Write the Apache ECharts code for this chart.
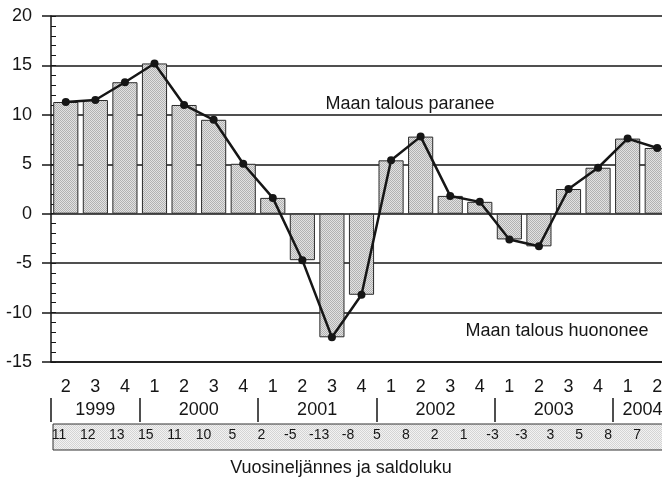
<!DOCTYPE html>
<html>
<head>
<meta charset="utf-8">
<script src="https://cdn.jsdelivr.net/npm/echarts@6/dist/echarts.min.js"></script>
<style>
  html, body { margin: 0; padding: 0; background: #fff; }
  #main { width: 662px; height: 485px; }
</style>
</head>
<body>
<div id="main"></div>
<script>
var quarters = ['2', '3', '4', '1', '2', '3', '4', '1', '2', '3', '4', '1', '2', '3', '4', '1', '2', '3', '4', '1', '2']
var years = ['1999', '1999', '1999', '2000', '2000', '2000', '2000', '2001', '2001', '2001', '2001',
  '2002', '2002', '2002', '2002', '2003', '2003', '2003', '2003', '2004', '2004']
var saldo = [11.3, 11.5, 13.3, 15.2, 11.0, 9.5, 5.05, 1.6, -4.7, -12.5, -8.2,
  5.4, 7.8, 1.8, 1.2, -2.6, -3.3, 2.5, 4.65, 7.6, 6.65]
var saldoLabels = ['11', '12', '13', '15', '11', '10', '5', '2', '-5', '-13', '-8',
  '5', '8', '2', '1', '-3', '-3', '3', '5', '8', '7']

var FONT = '"Liberation Sans", Arial, sans-serif'
var INK = '#161616'

// category ids (quarters repeat, so make them unique)
var cats = quarters.map(function (q, i) { return years[i] + '/' + q })

// year spans: separator before first quarter, label at middle of span
var yearNames = []
var yearStarts = []
var yearCenters = []
years.forEach(function (y, i) {
  if (yearNames.indexOf(y) < 0) {
    yearNames.push(y)
    yearStarts.push(i - 0.5)
  }
})
yearNames.forEach(function (y) {
  yearCenters.push((years.indexOf(y) + years.lastIndexOf(y)) / 2)
})

// fine checker texture like the printed raster
function stipple (light, dark) {
  var c = document.createElement('canvas')
  c.width = 2
  c.height = 2
  var g = c.getContext('2d')
  g.fillStyle = light
  g.fillRect(0, 0, 2, 2)
  g.fillStyle = dark
  g.fillRect(0, 0, 1, 1)
  g.fillRect(1, 1, 1, 1)
  return { image: c, repeat: 'repeat' }
}

var myChart = echarts.init(document.getElementById('main'))
var option = {
  backgroundColor: '#ffffff',
  animation: false,
  grid: [
    { left: 51, right: -10, top: 16, bottom: 123, outerBoundsMode: 'none' },
    { left: 44.5, right: 10.5, top: 380, bottom: 61, outerBoundsMode: 'none' }
  ],
  xAxis: [{
    type: 'category',
    gridIndex: 0,
    data: cats,
    boundaryGap: true,
    axisLine: { show: true, onZero: false, lineStyle: { color: INK, width: 1.5 } },
    axisTick: { show: false },
    axisLabel: {
      margin: 16,
      fontFamily: FONT,
      fontSize: 18,
      color: INK,
      interval: 0,
      formatter: function (v) { return v.split('/')[1] }
    }
  }, {
    type: 'value',
    gridIndex: 0,
    position: 'bottom',
    offset: 36,
    min: -0.5,
    max: 20.5,
    axisLine: { show: false, onZero: false },
    splitLine: { show: false },
    axisTick: {
      show: true,
      customValues: yearStarts,
      length: 24,
      lineStyle: { color: INK, width: 1.5 }
    },
    axisLabel: {
      customValues: yearCenters,
      margin: 3,
      fontFamily: FONT,
      fontSize: 18,
      color: INK,
      formatter: function (v) { return yearNames[yearCenters.indexOf(v)] }
    }
  }, {
    type: 'category',
    gridIndex: 1,
    data: cats,
    axisLine: { show: false, onZero: false },
    axisTick: { show: false },
    axisLabel: {
      margin: 4,
      interval: 0,
      fontFamily: FONT,
      fontSize: 14,
      color: INK,
      formatter: function (v, i) { return saldoLabels[i] }
    }
  }],
  yAxis: [{
    type: 'value',
    gridIndex: 0,
    min: -15,
    max: 20,
    interval: 5,
    axisLine: { show: true, onZero: false, lineStyle: { color: INK, width: 1.5 } },
    axisTick: { show: true, length: 9, lineStyle: { color: INK, width: 1.5 } },
    axisLabel: { margin: 19, fontFamily: FONT, fontSize: 18, color: INK },
    splitLine: { show: true, lineStyle: { color: INK, width: 1.5 } }
  }, {
    // minor ticks on the inside of the axis
    type: 'value',
    gridIndex: 0,
    position: 'left',
    min: -15,
    max: 20,
    interval: 1,
    axisLine: { show: false, onZero: false },
    axisTick: { show: true, inside: true, length: 5, lineStyle: { color: INK, width: 1 } },
    axisLabel: { show: false },
    splitLine: { show: false }
  }, {
    type: 'value',
    gridIndex: 1,
    show: false
  }],
  graphic: [{
    type: 'rect',
    z: -1,
    shape: { x: 53, y: 424, width: 625, height: 26 },
    style: { fill: stipple('#f2f2f2', '#d4d4d4'), stroke: '#333', lineWidth: 1 }
  }, {
    type: 'text',
    x: 410,
    y: 104,
    style: { text: 'Maan talous paranee', font: '18px ' + FONT, fill: INK, textAlign: 'center', textVerticalAlign: 'middle' }
  }, {
    type: 'text',
    x: 557,
    y: 331,
    style: { text: 'Maan talous huononee', font: '18px ' + FONT, fill: INK, textAlign: 'center', textVerticalAlign: 'middle' }
  }, {
    type: 'text',
    x: 341,
    y: 468,
    style: { text: 'Vuosineljännes ja saldoluku', font: '18px ' + FONT, fill: INK, textAlign: 'center', textVerticalAlign: 'middle' }
  }],
  series: [{
    type: 'bar',
    xAxisIndex: 0,
    yAxisIndex: 0,
    data: saldo,
    barCategoryGap: '15%',
    itemStyle: {
      color: stipple('#e2e2e2', '#b2b2b2'),
      borderColor: '#2a2a2a',
      borderWidth: 1
    }
  }, {
    type: 'line',
    xAxisIndex: 0,
    yAxisIndex: 0,
    data: saldo,
    symbol: 'circle',
    symbolSize: 8,
    lineStyle: { color: INK, width: 2.5 },
    itemStyle: { color: INK }
  }]
}
myChart.setOption(option)
window.onresize = myChart.resize
</script>
</body>
</html>
